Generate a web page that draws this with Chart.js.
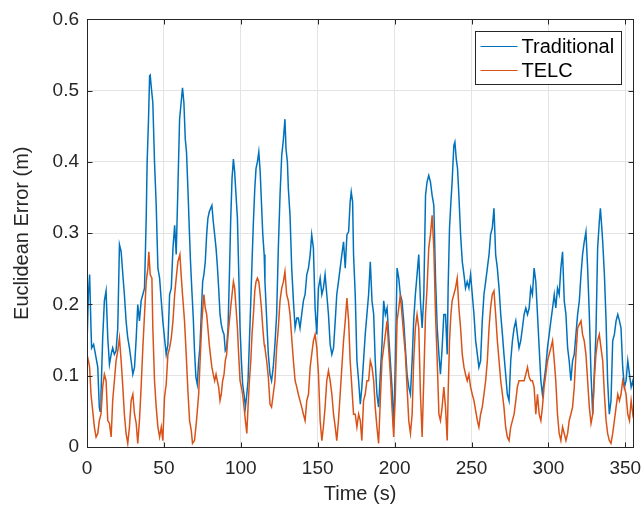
<!DOCTYPE html>
<html>
<head>
<meta charset="utf-8">
<script src="https://cdn.jsdelivr.net/npm/chart.js@4/dist/chart.umd.min.js"></script>
<style>
  html, body { margin: 0; padding: 0; background: #fff; }
  #wrap { width: 643px; height: 506px; }
</style>
</head>
<body>
<div id="wrap"><canvas id="chart" width="643" height="506"></canvas></div>
<script>
// values, seconds / metres
const tradTime = [
  0, 0.9, 1.7, 2.6, 3.0, 4.3, 5.5, 7.0, 8.0, 8.5,
  9.1, 10.2, 11.3, 12.4, 13.5, 14.6, 15.7, 16.7, 17.8, 18.9,
  20.0, 21.1, 22.2, 23.3, 24.3, 25.4, 26.5, 27.6, 28.7, 29.8,
  30.9, 32.0, 33.0, 34.1, 35.2, 36.3, 37.4, 38.5, 39.1, 40.0,
  40.7, 41.1, 41.7, 42.8, 43.9, 45.0, 46.1, 47.2, 48.3, 49.3,
  50.4, 51.5, 52.6, 53.7, 54.8, 55.9, 57.0, 58.0, 59.1,
  60.2, 61.2, 62.1, 63.0, 63.9, 64.7, 65.6, 66.5, 67.3, 68.2,
  69.1, 69.9, 70.8, 71.7, 72.6, 73.4, 74.3, 75.2, 76.0, 76.9,
  77.8, 78.6, 79.5, 80.4, 81.2, 82.1, 83.0, 83.9, 84.7, 85.6,
  86.5, 87.3, 88.2, 89.1, 89.9, 90.8, 91.7, 92.6, 93.4, 94.3,
  95.2, 96.0, 96.9, 97.8, 98.6, 99.5, 100.4, 101.2, 102.1, 103.0,
  103.9, 104.7, 105.6, 106.5, 107.3, 108.2, 109.1, 109.9, 110.8, 111.7,
  112.6, 113.4, 114.3, 115.2,
  115.7, 117.9, 119.0, 120.0, 121.1, 122.2, 123.3, 124.4, 125.5, 126.6,
  127.7, 128.7, 129.4, 130.3, 130.9, 132.0, 133.1, 134.2, 135.3, 136.4,
  137.4, 138.5, 139.6, 140.7, 141.8, 142.9, 144.0, 145.1, 146.1, 147.2,
  148.3, 149.4, 150.5, 151.6, 152.7, 153.7, 154.8, 155.9, 157.0, 158.1,
  159.2, 160.3, 161.4, 162.4, 163.5, 164.6, 165.7, 166.8, 167.9, 169.0,
  170.1, 171.1, 171.8, 172.7, 173.3,
  174.4, 175.5, 176.6, 177.7, 178.7, 179.8, 180.9, 182.0, 183.1, 184.2,
  185.3, 186.4, 187.4, 188.5, 189.6, 190.7, 191.8, 192.9, 194.0, 195.1,
  196.1, 197.2, 198.3, 199.4, 200.5, 201.6, 202.7, 203.7, 204.8, 205.9,
  207.0, 208.1, 209.2, 210.3, 211.4, 212.4, 213.5, 214.6, 215.7, 216.8,
  217.9, 219.0, 220.1, 221.1, 222.2, 223.3, 224.4, 225.5, 226.6, 227.7,
  228.8, 229.8, 230.9, 232.0,
  233.1, 234.2, 234.8, 235.7, 236.6, 237.4, 238.5, 239.2, 240.1, 240.9,
  241.8, 242.9, 244.0, 245.1, 246.1, 247.2, 248.3, 249.4, 250.5, 251.6,
  252.7, 253.8, 254.8, 255.9, 257.0, 258.1, 259.2, 260.3, 261.4, 262.4,
  263.5, 264.6, 265.7, 266.8, 267.9, 269.0, 270.1, 271.1, 272.2, 273.3,
  274.4, 275.5, 276.6, 277.7, 278.8, 279.8, 280.9, 282.0, 283.1, 284.2,
  285.3, 286.4, 287.5, 288.5, 289.6, 290.7,
  291.8, 292.9, 294.0, 295.1, 296.1, 297.2, 298.3, 299.4, 300.5, 301.6,
  302.7, 303.8, 304.8, 305.9, 307.0, 308.1, 309.2, 310.3, 311.4, 312.5,
  313.5, 314.6, 315.7, 316.8, 317.9, 319.0, 320.1, 321.2, 322.2, 323.3,
  324.4, 325.5, 326.6, 327.7, 328.8, 329.8, 330.9, 332.0, 333.1, 333.8,
  334.6, 335.3, 336.4, 337.5, 338.5, 339.6, 340.7, 341.8, 342.9, 344.0,
  345.1, 346.2, 347.2, 348.3, 349.4, 350.5, 351.6, 352.7, 353.8, 354.9,
  355.9
];
const tradError = [
  0.144, 0.214, 0.242, 0.167, 0.139, 0.144, 0.130, 0.112, 0.056, 0.050,
  0.074, 0.153, 0.205, 0.219, 0.153, 0.116, 0.130, 0.139, 0.130, 0.135,
  0.167, 0.284, 0.274, 0.242, 0.214, 0.177, 0.153, 0.139, 0.121, 0.102,
  0.112, 0.153, 0.200, 0.177, 0.205, 0.214, 0.223, 0.321, 0.400, 0.460,
  0.521, 0.522, 0.507, 0.483, 0.400, 0.339, 0.251, 0.237, 0.205, 0.177,
  0.153, 0.130, 0.144, 0.214, 0.223, 0.279, 0.311, 0.270, 0.363,
  0.460, 0.483, 0.504, 0.483, 0.432, 0.414, 0.363, 0.307, 0.260, 0.219,
  0.181, 0.135, 0.098, 0.088, 0.121, 0.139, 0.186, 0.232, 0.242, 0.260,
  0.298, 0.321, 0.330, 0.335, 0.339, 0.316, 0.298, 0.279, 0.256, 0.223,
  0.186, 0.172, 0.163, 0.158, 0.135, 0.139, 0.167, 0.242, 0.316, 0.377,
  0.404, 0.386, 0.353, 0.321, 0.251, 0.167, 0.121, 0.088, 0.074, 0.056,
  0.074, 0.093, 0.149, 0.205, 0.260, 0.316, 0.363, 0.391, 0.400, 0.414,
  0.386, 0.344, 0.298, 0.270,
  0.232, 0.130, 0.102, 0.093, 0.112, 0.144, 0.186, 0.279, 0.353, 0.409,
  0.432, 0.460, 0.418, 0.400, 0.363, 0.325, 0.251, 0.205, 0.167, 0.181,
  0.181, 0.167, 0.186, 0.205, 0.214, 0.242, 0.251, 0.270, 0.298, 0.279,
  0.195, 0.158, 0.223, 0.237, 0.214, 0.223, 0.242, 0.214, 0.186, 0.144,
  0.130, 0.139, 0.177, 0.214, 0.232, 0.251, 0.270, 0.288, 0.251, 0.298,
  0.302, 0.344, 0.358, 0.344, 0.270,
  0.214, 0.121, 0.093, 0.060, 0.084, 0.121, 0.158, 0.186, 0.214, 0.260,
  0.205, 0.186, 0.121, 0.074, 0.056, 0.102, 0.144, 0.205, 0.186, 0.195,
  0.158, 0.121, 0.084, 0.028, 0.121, 0.251, 0.237, 0.214, 0.205, 0.177,
  0.139, 0.102, 0.084, 0.074, 0.121, 0.177, 0.214, 0.242, 0.270, 0.205,
  0.167, 0.214, 0.353, 0.372, 0.381, 0.372, 0.353, 0.339, 0.237, 0.167,
  0.130, 0.102, 0.139, 0.186,
  0.186, 0.130, 0.223, 0.307, 0.344, 0.372, 0.423, 0.428, 0.404, 0.391,
  0.353, 0.298, 0.260, 0.242, 0.223, 0.232, 0.223, 0.242, 0.214, 0.186,
  0.149, 0.130, 0.112, 0.121, 0.177, 0.214, 0.232, 0.251, 0.270, 0.298,
  0.307, 0.335, 0.270, 0.251, 0.223, 0.186, 0.158, 0.130, 0.102, 0.074,
  0.065, 0.121, 0.149, 0.167, 0.177, 0.158, 0.139, 0.149, 0.167, 0.186,
  0.195, 0.186, 0.195, 0.223, 0.214, 0.251,
  0.232, 0.186, 0.139, 0.093, 0.074, 0.093, 0.112, 0.139, 0.158, 0.177,
  0.195, 0.214, 0.195, 0.223, 0.214, 0.251, 0.274, 0.205, 0.186, 0.139,
  0.121, 0.093, 0.121, 0.130, 0.158, 0.186, 0.205, 0.242, 0.270, 0.288,
  0.302, 0.251, 0.186, 0.102, 0.046, 0.102, 0.158, 0.279, 0.316, 0.335,
  0.311, 0.288, 0.242, 0.177, 0.093, 0.046, 0.065, 0.149, 0.158, 0.177,
  0.186, 0.177, 0.167, 0.112, 0.084, 0.093, 0.121, 0.102, 0.084, 0.093,
  0.074
];

const telcTime = [
  0, 0.9, 1.7, 2.6, 3.7, 4.8, 5.9, 7.0, 8.0, 9.1,
  10.2, 11.3, 12.4, 13.5, 14.6, 15.7, 16.7, 17.8, 18.9, 20.0,
  21.1, 22.2, 23.3, 24.3, 25.4, 26.5, 27.6, 28.7, 29.8, 30.9,
  32.0, 33.0, 34.1, 35.2, 36.3, 37.4, 38.5, 39.6, 40.2, 41.1,
  42.2, 42.8, 43.9, 45.0, 46.1, 47.2, 48.3, 49.3, 50.4, 51.5,
  52.6, 53.7, 54.8, 55.9, 57.0, 58.0, 59.1,
  60.4, 61.2, 62.1, 63.4, 64.5, 65.6, 66.7, 67.8, 68.6, 69.9,
  71.2, 72.6, 73.9, 74.7, 76.0, 76.9, 77.8, 78.6, 79.5, 80.4,
  81.2, 82.1, 83.0, 83.9, 84.7, 85.6, 86.5, 87.3, 88.2, 89.1,
  89.9, 90.8, 91.7, 92.6, 93.4, 94.3, 95.2, 96.0, 96.9, 97.8,
  98.6, 99.5, 100.4, 101.2, 102.1, 103.0, 103.9, 104.7, 105.6, 106.5,
  107.3, 108.2, 109.1, 109.9, 110.8, 111.7, 112.6, 113.4, 114.3, 115.2,
  115.7, 116.8, 117.9, 119.0, 120.0, 121.1, 122.2, 123.3, 124.4, 125.5,
  126.6, 127.7, 128.7, 129.8, 130.9, 132.0, 133.1, 134.2, 135.3, 136.4,
  137.4, 138.5, 139.6, 140.7, 141.8, 142.9, 144.0, 145.1, 146.1, 147.2,
  148.3, 149.4, 150.5, 151.6, 152.7, 153.7, 154.8, 155.9, 157.0, 158.1,
  159.2, 160.3, 161.4, 162.4, 163.5, 164.6, 165.7, 166.8, 167.9, 169.0,
  170.1, 171.1, 172.2, 173.3,
  174.4, 175.5, 176.6, 177.7, 178.7, 179.8, 180.9, 182.0, 183.1, 184.2,
  185.3, 186.4, 187.4, 188.5, 189.6, 190.7, 191.8, 192.9, 194.0, 195.1,
  196.1, 197.2, 198.3, 199.4, 200.5, 201.6, 202.7, 203.7, 204.8, 205.9,
  207.0, 208.1, 209.2, 210.3, 211.4, 212.4, 213.5, 214.6, 215.7, 216.8,
  217.9, 219.0, 220.1, 221.1, 222.2, 223.3, 224.4, 225.5, 226.6, 227.7,
  228.8, 229.8, 230.9, 232.0,
  233.1, 234.2, 234.8, 235.7, 236.6, 237.4, 238.5, 239.6, 240.7, 241.8,
  242.9, 244.0, 245.1, 246.1, 247.2, 248.3, 249.4, 250.5, 251.6, 252.7,
  253.8, 254.8, 255.9, 257.0, 258.1, 259.2, 260.3, 261.4, 262.4, 263.5,
  264.6, 265.7, 266.8, 267.9, 269.0, 270.1, 271.1, 272.2, 273.3, 274.4,
  275.5, 276.6, 277.7, 278.8, 279.8, 280.9, 282.0, 283.1, 284.2, 285.3,
  286.4, 287.5, 288.5, 289.6, 290.7,
  291.8, 292.9, 294.0, 295.1, 296.1, 297.2, 298.3, 299.4, 300.5, 301.6,
  302.7, 303.8, 304.8, 305.9, 307.0, 308.1, 309.2, 310.3, 311.4, 312.5,
  313.5, 314.6, 315.7, 316.8, 317.9, 319.0, 320.1, 321.2, 322.2, 323.3,
  324.4, 325.5, 326.6, 327.7, 328.8, 329.8, 330.9, 332.0, 333.1, 334.2,
  335.3, 336.4, 337.5, 338.5, 339.6, 340.7, 341.8, 342.9, 344.0, 345.1,
  346.2, 347.2, 348.3, 349.4, 350.5, 351.6, 352.7, 353.8, 354.9, 355.9
];
const telcError = [
  0.130, 0.121, 0.112, 0.074, 0.051, 0.028, 0.014, 0.019, 0.037, 0.046,
  0.084, 0.102, 0.093, 0.037, 0.033, 0.014, 0.065, 0.093, 0.121, 0.135,
  0.153, 0.121, 0.084, 0.046, 0.019, 0.005, 0.028, 0.065, 0.074, 0.046,
  0.033, 0.005, 0.037, 0.084, 0.139, 0.186, 0.232, 0.251, 0.274, 0.242,
  0.237, 0.167, 0.093, 0.056, 0.028, 0.014, 0.028, 0.009, 0.070, 0.088,
  0.130, 0.139, 0.153, 0.177, 0.214, 0.237, 0.260,
  0.270, 0.242, 0.214, 0.177, 0.130, 0.079, 0.037, 0.023, 0.005, 0.009,
  0.037, 0.074, 0.139, 0.177, 0.214, 0.195, 0.186, 0.167, 0.144, 0.126,
  0.112, 0.102, 0.093, 0.102, 0.093, 0.084, 0.065, 0.074, 0.093, 0.102,
  0.121, 0.130, 0.158, 0.177, 0.195, 0.214, 0.232, 0.223, 0.195, 0.167,
  0.130, 0.093, 0.084, 0.074, 0.056, 0.037, 0.019, 0.056, 0.093, 0.121,
  0.158, 0.186, 0.219, 0.232, 0.237, 0.232, 0.214, 0.195, 0.167, 0.144,
  0.139, 0.121, 0.098, 0.060, 0.056, 0.074, 0.093, 0.139, 0.167, 0.205,
  0.223, 0.232, 0.246, 0.214, 0.205, 0.186, 0.153, 0.121, 0.093, 0.084,
  0.074, 0.065, 0.056, 0.046, 0.037, 0.065, 0.074, 0.112, 0.130, 0.149,
  0.158, 0.139, 0.102, 0.037, 0.009, 0.028, 0.056, 0.093, 0.107, 0.093,
  0.074, 0.046, 0.028, 0.009, 0.037, 0.074, 0.112, 0.149, 0.177, 0.209,
  0.177, 0.121, 0.084, 0.046,
  0.046, 0.028, 0.046, 0.037, 0.009, 0.065, 0.074, 0.093, 0.093, 0.121,
  0.112, 0.093, 0.056, 0.028, 0.005, 0.065, 0.121, 0.139, 0.158, 0.177,
  0.139, 0.102, 0.056, 0.014, 0.074, 0.177, 0.195, 0.214, 0.186, 0.158,
  0.130, 0.084, 0.037, 0.019, 0.046, 0.121, 0.167, 0.186, 0.167, 0.074,
  0.014, 0.098, 0.186, 0.223, 0.279, 0.298, 0.325, 0.279, 0.186, 0.121,
  0.046, 0.037, 0.056, 0.084,
  0.056, 0.009, 0.074, 0.149, 0.186, 0.205, 0.214, 0.223, 0.237, 0.195,
  0.167, 0.130, 0.112, 0.102, 0.093, 0.102, 0.084, 0.074, 0.065, 0.051,
  0.037, 0.028, 0.046, 0.056, 0.074, 0.093, 0.121, 0.167, 0.195, 0.214,
  0.219, 0.186, 0.149, 0.121, 0.093, 0.074, 0.056, 0.028, 0.014, 0.009,
  0.028, 0.037, 0.046, 0.065, 0.084, 0.093, 0.093, 0.093, 0.093, 0.102,
  0.112, 0.098, 0.093, 0.093, 0.084,
  0.046, 0.074, 0.046, 0.037, 0.056, 0.084, 0.102, 0.121, 0.130, 0.139,
  0.149, 0.121, 0.093, 0.046, 0.019, 0.009, 0.028, 0.019, 0.009, 0.019,
  0.037, 0.046, 0.056, 0.084, 0.130, 0.167, 0.172, 0.177, 0.158, 0.149,
  0.130, 0.093, 0.056, 0.033, 0.046, 0.093, 0.130, 0.149, 0.158, 0.139,
  0.121, 0.074, 0.037, 0.019, 0.009, 0.005, 0.019, 0.037, 0.056, 0.074,
  0.065, 0.074, 0.093, 0.084, 0.074, 0.046, 0.037, 0.065, 0.046, 0.056
];

const xTicks = [0, 50, 100, 150, 200, 250, 300, 350];
const yTicks = [0, 0.1, 0.2, 0.3, 0.4, 0.5, 0.6];
const seriesNames = ["Traditional", "TELC"];

const FONT = "'Liberation Sans', Arial, Helvetica, sans-serif";
const INK = "#262626";
const GRID = "#e4e4e4";
const BLUE = "#0072BD";
const ORANGE = "#D95319";

function toPoints(xs, ys) {
    const n = Math.min(xs.length, ys.length);
    const pts = [];
    for (let i = 0; i < n; i++) pts.push({ x: xs[i], y: ys[i] });
    return pts;
}

// MATLAB-style box, inward ticks and legend inside the axes
const axesBox = {
    id: "axesBox",
    afterDraw(chart) {
        const { ctx, chartArea: a, scales } = chart;
        const L = Math.round(a.left) + 0.5, R = Math.round(a.right) + 0.5;
        const T = Math.round(a.top) + 0.5, B = Math.round(a.bottom) + 0.5;
        ctx.save();
        ctx.strokeStyle = INK;
        ctx.lineWidth = 1;
        ctx.beginPath();
        xTicks.forEach(v => {
            const x = Math.round(scales.x.getPixelForValue(v)) + 0.5;
            ctx.moveTo(x, B); ctx.lineTo(x, B - 5);
            ctx.moveTo(x, T); ctx.lineTo(x, T + 5);
        });
        yTicks.forEach(v => {
            const y = Math.round(scales.y.getPixelForValue(v)) + 0.5;
            ctx.moveTo(L, y); ctx.lineTo(L + 5, y);
            ctx.moveTo(R, y); ctx.lineTo(R - 5, y);
        });
        ctx.stroke();
        ctx.strokeRect(L, T, R - L, B - T);

        // legend
        const bw = 146, bh = 53;
        const bx = R - 12 - bw, by = T + 12;
        ctx.fillStyle = "#fff";
        ctx.fillRect(bx, by, bw, bh);
        ctx.strokeRect(bx, by, bw, bh);
        const colors = [BLUE, ORANGE];
        ctx.font = "20px " + FONT;
        ctx.textBaseline = "middle";
        ctx.textAlign = "left";
        seriesNames.forEach((name, i) => {
            const y = by + 15 + i * 24;
            ctx.strokeStyle = colors[i];
            ctx.lineWidth = 1.2;
            ctx.beginPath();
            ctx.moveTo(bx + 5, y); ctx.lineTo(bx + 42, y);
            ctx.stroke();
            ctx.fillStyle = "#000";
            ctx.fillText(name, bx + 46, y + 1);
        });
        ctx.restore();
    }
};

new Chart(document.getElementById("chart"), {
    type: "line",
    data: {
        datasets: [
            { label: seriesNames[0], data: toPoints(tradTime, tradError), borderColor: BLUE, borderWidth: 1.5, pointRadius: 0, tension: 0, order: 1 },
            { label: seriesNames[1], data: toPoints(telcTime, telcError), borderColor: ORANGE, borderWidth: 1.5, pointRadius: 0, tension: 0, order: 0 },
        ],
    },
    options: {
        responsive: false,
        animation: false,
        layout: { padding: { top: 17, right: 10, left: 0, bottom: 0 } },
        plugins: { legend: { display: false }, tooltip: { enabled: false } },
        scales: {
            x: {
                type: "linear",
                min: 0,
                max: 355,
                afterBuildTicks: s => { s.ticks = xTicks.map(v => ({ value: v })); },
                afterFit: s => { s.height = 59; s.paddingLeft = 0; s.paddingRight = 0; },
                grid: { color: GRID, drawTicks: false },
                border: { display: false },
                ticks: { padding: 10, color: INK, maxRotation: 0, font: { family: FONT, size: 19 } },
                title: { display: true, text: "Time (s)", color: INK, padding: 0, font: { family: FONT, size: 20 } },
            },
            y: {
                type: "linear",
                min: 0,
                max: 0.6,
                afterBuildTicks: s => { s.ticks = yTicks.map(v => ({ value: v })); },
                afterFit: s => { s.width = 87; },
                grid: { color: GRID, drawTicks: false },
                border: { display: false },
                ticks: { padding: 8, color: INK, font: { family: FONT, size: 19 } },
                title: { display: true, text: "Euclidean Error (m)", color: INK, padding: { top: 10, bottom: 0 }, font: { family: FONT, size: 20 } },
            },
        },
    },
    plugins: [axesBox],
});
</script>
</body>
</html>
